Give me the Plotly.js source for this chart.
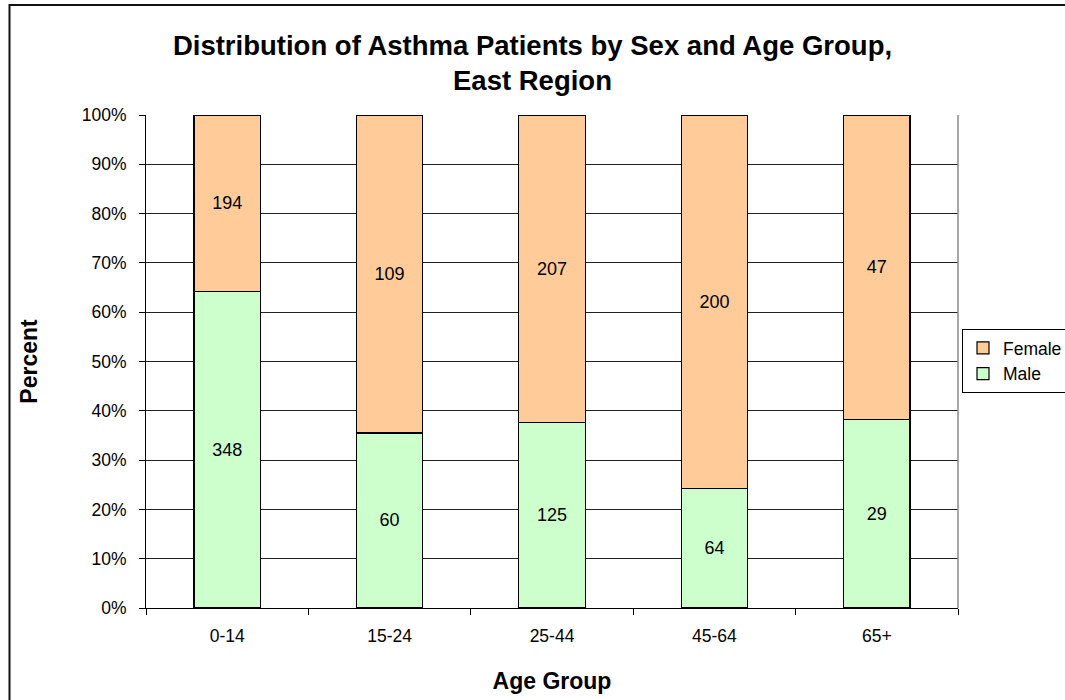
<!DOCTYPE html>
<html>
<head>
<meta charset="utf-8">
<script src="https://cdn.plot.ly/plotly-3.0.1.min.js"></script>
<style>
  html, body { margin: 0; padding: 0; background: #fff; }
  #chart { width: 1065px; height: 700px; }
</style>
</head>
<body>
<div id="chart"></div>
<script>
// Data
const ageGroups = ['0-14', '15-24', '25-44', '45-64', '65+'];
const maleCounts = [348, 60, 125, 64, 29];
const femaleCounts = [194, 109, 207, 200, 47];
const yTickVals = [0, 10, 20, 30, 40, 50, 60, 70, 80, 90, 100];
const yTickText = ['0%', '10%', '20%', '30%', '40%', '50%', '60%', '70%', '80%', '90%', '100%'];

const FONT = 'Arial, "Liberation Sans", sans-serif';
const barWidth = 0.41;

const male = {
  type: 'bar', name: 'Male', x: ageGroups, y: maleCounts,
  text: maleCounts.map(String), textposition: 'inside', insidetextanchor: 'middle',
  textangle: 0, constraintext: 'none',
  textfont: { family: FONT, size: 18, color: '#000' },
  marker: { color: '#CCFFCC', line: { color: '#000', width: 1.2 } },
  width: barWidth, hoverinfo: 'skip'
};
const female = {
  type: 'bar', name: 'Female', x: ageGroups, y: femaleCounts,
  text: femaleCounts.map(String), textposition: 'inside', insidetextanchor: 'middle',
  textangle: 0, constraintext: 'none',
  textfont: { family: FONT, size: 18, color: '#000' },
  marker: { color: '#FFCC99', line: { color: '#000', width: 1.2 } },
  width: barWidth, hoverinfo: 'skip'
};

const layout = {
  width: 1065, height: 700,
  margin: { l: 146, r: 107, t: 115, b: 92, autoexpand: false },
  paper_bgcolor: '#fff', plot_bgcolor: '#fff',
  font: { family: FONT, size: 17.5, color: '#000' },
  barmode: 'stack', barnorm: 'percent',
  title: {
    text: '<b>Distribution of Asthma Patients by Sex and Age Group,<br>East Region</b>',
    font: { family: FONT, size: 27.5, color: '#000' },
    xref: 'container', x: 0.5, xanchor: 'center',
    yref: 'container', y: 0.922, yanchor: 'top'
  },
  xaxis: {
    type: 'category', tickson: 'boundaries', ticks: 'outside', ticklen: 6,
    tickcolor: '#000', tickwidth: 1,
    showline: true, linecolor: '#000', linewidth: 1,
    showgrid: false, zeroline: false,
    ticklabelstandoff: 12,
    tickfont: { family: FONT, size: 17.5, color: '#000' },
    title: { text: '<b>Age Group</b>', font: { family: FONT, size: 23, color: '#000' }, standoff: 27 },
    automargin: false
  },
  yaxis: {
    range: [0, 100], tickvals: yTickVals, ticktext: yTickText,
    ticks: 'outside', ticklen: 6, tickcolor: '#000', tickwidth: 1,
    showline: true, linecolor: '#000', linewidth: 1,
    showgrid: true, gridcolor: '#222', gridwidth: 1, zeroline: false,
    ticklabelstandoff: 9,
    tickfont: { family: FONT, size: 17.5, color: '#000' },
    title: { text: '<b>Percent</b>', font: { family: FONT, size: 23, color: '#000' }, standoff: 37 },
    automargin: false
  },
  legend: {
    x: (962 - 146) / 812, xanchor: 'left', y: 0.566, yanchor: 'top',
    traceorder: 'reversed',
    bordercolor: '#000', borderwidth: 1, bgcolor: '#fff',
    font: { family: FONT, size: 17.5, color: '#000' }
  },
  shapes: [
    { type: 'line', xref: 'paper', yref: 'paper', x0: 1, x1: 1, y0: 0, y1: 1,
      line: { color: '#888', width: 1.5 } },
    { type: 'rect', xref: 'paper', yref: 'paper',
      x0: (9.5 - 146) / 812, x1: 1.3, y0: -0.3, y1: (608 - 5) / 493,
      line: { color: '#111', width: 2 }, fillcolor: 'rgba(0,0,0,0)', layer: 'below' }
  ],
  showlegend: true
};

Plotly.newPlot('chart', [male, female], layout, { displayModeBar: false, staticPlot: true });
</script>
</body>
</html>
